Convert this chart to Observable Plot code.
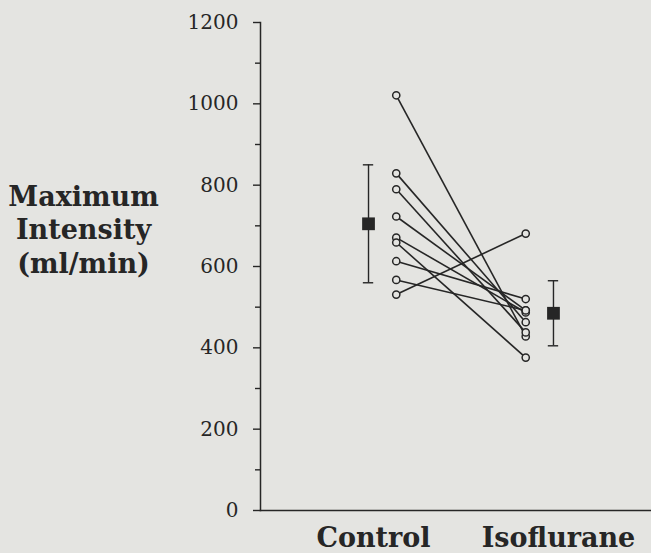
<!DOCTYPE html>
<html><head><meta charset="utf-8">
<script src="https://cdn.jsdelivr.net/npm/d3@7"></script>
<script src="https://cdn.jsdelivr.net/npm/@observablehq/plot@0.6"></script>
<style>
html,body{margin:0;padding:0;background:#e4e4e1;}
</style></head><body><div id="chart"></div>
<script>
// ---- data ----
const groups = ["Control", "Isoflurane"];
const controlValues = [1021, 829, 790, 723, 671, 659, 613, 567, 531];
const isoValues     = [ 428, 463, 438, 492, 487, 376, 520, 492, 681];
const meanValues = [705, 485];
const errValues  = [145, 80];
const yTicks = [0, 200, 400, 600, 800, 1000, 1200];
const yMinorTicks = [100, 300, 500, 700, 900, 1100];
const yLabel = "Maximum\nIntensity\n(ml/min)";

// ---- layout helpers ----
const bg = "#e4e4e1";
const ink = "#262626";
const pointOffset = 0.15;   // individual points sit slightly inside each group
const capHalf = 0.028;      // half-width of error-bar caps (x units)

const pairs = controlValues.map((c, i) => ({subject: i, c, iso: isoValues[i]}));
const points = pairs.flatMap(d => [
  {group: "Control", pos: 0 + pointOffset, v: d.c},
  {group: "Isoflurane", pos: 1 - pointOffset, v: d.iso}
]);
const summary = groups.map((g, i) => ({
  group: g, pos: i, mean: meanValues[i],
  lo: meanValues[i] - errValues[i], hi: meanValues[i] + errValues[i]
}));

const chart = Plot.plot({
  width: 651, height: 553,
  marginLeft: 260, marginRight: 0, marginTop: 22, marginBottom: 43,
  style: {background: "transparent", fontFamily: "'DejaVu Serif', serif", color: ink},
  x: {domain: [-0.584, 1.53], axis: null},
  y: {domain: [0, 1200], axis: null},
  marks: [
    Plot.frame({anchor: "left", stroke: ink, strokeWidth: 1.5}),
    Plot.frame({anchor: "bottom", stroke: ink, strokeWidth: 1.5}),
    Plot.axisY(yTicks, {tickSize: 7, tickPadding: 15, fontSize: 20, strokeWidth: 1.4, tickFormat: d3.format("d")}),
    Plot.axisY(yMinorTicks, {tickSize: 5, text: null, strokeWidth: 1.4}),
    Plot.link(pairs, {
      x1: () => pointOffset, x2: () => 1 - pointOffset,
      y1: "c", y2: "iso", stroke: ink, strokeWidth: 1.6
    }),
    Plot.dot(points, {x: "pos", y: "v", r: 3.6, stroke: ink, fill: bg, strokeWidth: 1.5}),
    Plot.ruleX(summary, {x: "pos", y1: "lo", y2: "hi", stroke: ink, strokeWidth: 1.4}),
    Plot.ruleY(summary, {y: "hi", x1: d => d.pos - capHalf, x2: d => d.pos + capHalf, stroke: ink, strokeWidth: 1.4}),
    Plot.ruleY(summary, {y: "lo", x1: d => d.pos - capHalf, x2: d => d.pos + capHalf, stroke: ink, strokeWidth: 1.4}),
    Plot.dot(summary, {x: "pos", y: "mean", symbol: "square", r: 7.2, fill: ink, stroke: null}),
    Plot.text(groups, {
      x: (d, i) => i, text: d => d, frameAnchor: "bottom", lineAnchor: "top",
      dy: 17, dx: 5, fontSize: 27, fontWeight: "bold", fill: ink
    }),
    Plot.text([yLabel], {
      frameAnchor: "left", dx: -177, dy: -38, textAnchor: "middle",
      fontSize: 27, fontWeight: "bold", lineHeight: 1.25, fill: ink
    })
  ]
});
document.getElementById("chart").append(chart);
</script>
</body></html>
